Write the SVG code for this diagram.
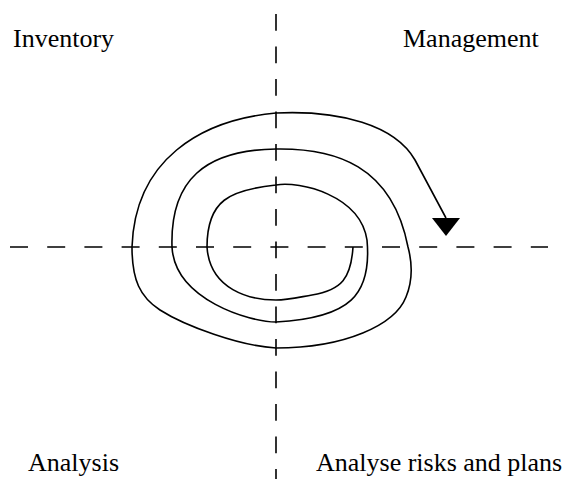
<svg xmlns="http://www.w3.org/2000/svg" width="571" height="479" viewBox="0 0 571 479">
<style>
.lbl{font-family:"Liberation Serif","Times New Roman","DejaVu Serif",serif;font-size:26px;fill:#000}
.axis{stroke:#000;stroke-width:1.6;fill:none}
.spiral{stroke:#000;stroke-width:1.6;fill:none;stroke-linejoin:round}
</style>
<rect width="571" height="479" fill="#fff"/>
<g id="connectors">
<line id="axis-h" class="axis" x1="10" y1="247" x2="548" y2="247" stroke-dasharray="18 19.2"/>
<line id="axis-v" class="axis" x1="276" y1="14" x2="276" y2="479" stroke-dasharray="16.7 15.8"/>
<path id="spiral" class="spiral" d="M353,247 C351,278 342,290 312,295 C300,297 288,300 276,300 C250,300 210,290 207,247 C207,200 230,190 276,185 C300,181 360,195 367,240 C372,295 350,318 276,322 C250,322 175,300 172,247 C170,180 205,150 276,149 C335,148 392,165 408,247 C412,262 413,280 406,297 C395,325 345,348 276,348 C240,346 185,326 160,310 C140,297 132,280 132,247 C135,160 200,120 276,113 C340,110 395,125 415,160 L446,218"/>
<polygon id="arrowhead" points="432,218 460,218 446,236" fill="#000"/>
</g>
<g id="label-inventory"><text class="lbl" x="13" y="47">Inventory</text></g>
<g id="label-management"><text class="lbl" x="403" y="47">Management</text></g>
<g id="label-analysis"><text class="lbl" x="28" y="471">Analysis</text></g>
<g id="label-analyse"><text class="lbl" x="316" y="471">Analyse risks and plans</text></g>
</svg>
